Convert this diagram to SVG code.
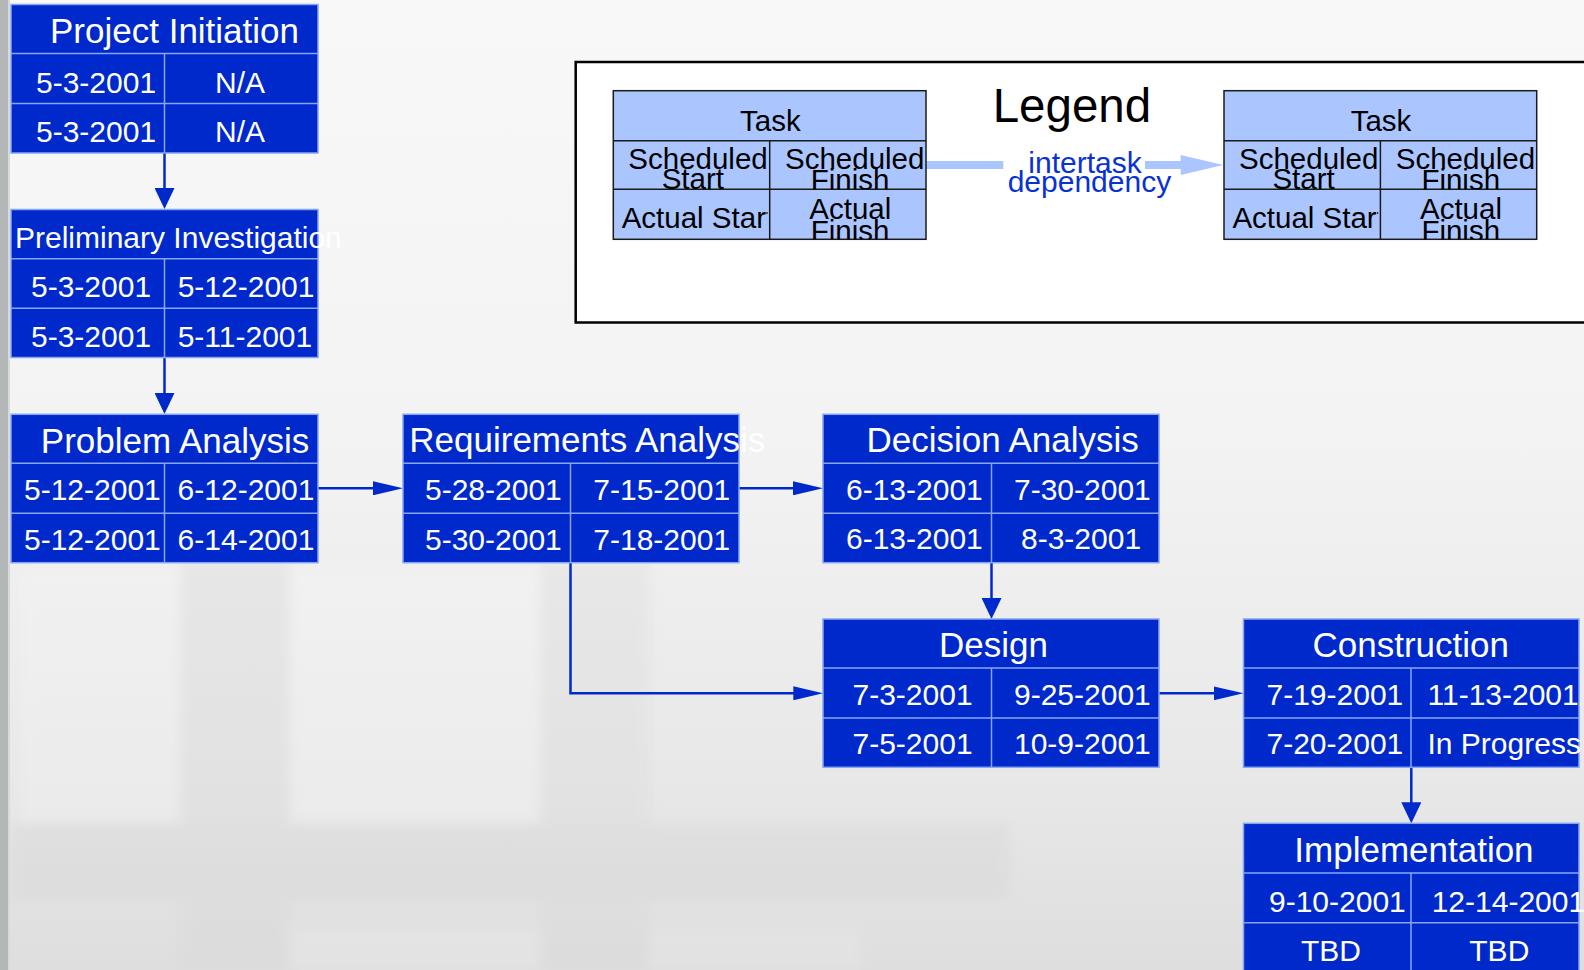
<svg xmlns="http://www.w3.org/2000/svg" width="1584" height="970" viewBox="0 0 1584 970">
<style>
.box{fill:#0029cc;stroke:#88a5f3;stroke-width:1.5}
.grid{fill:none;stroke:#88a5f3;stroke-width:1.5}
.title{font-family:"Liberation Sans",Arial,sans-serif;font-size:35px;fill:#ffffff}
.date{font-family:"Liberation Sans",Arial,sans-serif;font-size:30px;fill:#ffffff}
.conn{fill:none;stroke:#0029cc;stroke-width:2.5}
.lcell{fill:#abc6ff;stroke:#1a1a1a;stroke-width:1.5}
.lgrid{fill:none;stroke:#1a1a1a;stroke-width:1.5}
.ltext{font-family:"Liberation Sans",Arial,sans-serif;font-size:29.5px;fill:#000000}
.ldep{font-family:"Liberation Sans",Arial,sans-serif;font-size:30px;fill:#0a32d2}
</style>
<defs>
<linearGradient id="bg" x1="0" y1="0" x2="0" y2="1">
<stop offset="0" stop-color="#f8f8f8"/>
<stop offset="0.45" stop-color="#f3f3f3"/>
<stop offset="0.8" stop-color="#e8e8e8"/>
<stop offset="1" stop-color="#dedede"/>
</linearGradient>
<filter id="blur" x="-10%" y="-10%" width="120%" height="120%"><feGaussianBlur stdDeviation="6"/></filter>
<marker id="ah" markerUnits="userSpaceOnUse" markerWidth="30" markerHeight="14" refX="20" refY="7" orient="auto"><path d="M0,0 L30,7 L0,14 Z" fill="#0029cc"/></marker>
<marker id="av" markerUnits="userSpaceOnUse" markerWidth="21" markerHeight="20" refX="11" refY="10" orient="auto"><path d="M0,0 L21,10 L0,20 Z" fill="#0029cc"/></marker>
<clipPath id="cSS"><rect x="613.3" y="140.7" width="156.4" height="48.6"/></clipPath>
<clipPath id="cSF"><rect x="769.7" y="140.7" width="156.3" height="48.6"/></clipPath>
<clipPath id="cAS"><rect x="613.3" y="189.3" width="154.2" height="50"/></clipPath>
<clipPath id="cAF"><rect x="769.7" y="189.3" width="156.3" height="50"/></clipPath>
</defs>

<g id="background">
<rect x="0" y="0" width="1584" height="970" fill="url(#bg)"/>
<g filter="url(#blur)" opacity="0.3">
<rect x="180" y="560" width="110" height="410" fill="#d6d6d6"/>
<rect x="540" y="560" width="110" height="410" fill="#d8d8d8"/>
<rect x="10" y="823" width="1000" height="77" fill="#d2d2d2"/>
<rect x="290" y="570" width="250" height="253" fill="#f8f8f8"/>
<rect x="20" y="570" width="160" height="253" fill="#f6f6f6"/>
<rect x="290" y="930" width="250" height="40" fill="#eeeeee"/>
<rect x="650" y="930" width="210" height="40" fill="#ebebeb"/>
</g>
<rect x="0" y="0" width="8" height="970" fill="#b3b7b7"/>
<rect x="8" y="0" width="2" height="970" fill="#d8dada"/>
</g>

<g id="legend">
<rect x="575.7" y="62" width="1030" height="260.5" fill="#ffffff" stroke="#000000" stroke-width="2.5"/>
<text x="992.7" y="121.7" font-family="Liberation Sans, Arial, sans-serif" font-size="47.5" fill="#000000">Legend</text>
<g id="legend-arrow">
<path d="M926,165 H1003.3 M1145,165 H1182" fill="none" stroke="#abc6ff" stroke-width="8"/>
<polygon points="1180.7,155 1223.3,165 1180.7,175" fill="#abc6ff"/>
<text class="ldep" x="1028.3" y="172.7">intertask</text>
<text class="ldep" x="1007.7" y="191.7">dependency</text>
</g>
<g id="legend-task-1">
<rect class="lcell" x="613.3" y="90.7" width="312.7" height="148.6"/>
<path class="lgrid" d="M613.3,140.7H926M613.3,189.3H926M769.7,140.7V239.3"/>
<text class="ltext" x="740" y="130.7">Task</text>
<g clip-path="url(#cSS)"><text class="ltext" x="628.3" y="169">Scheduled</text><text class="ltext" x="661.7" y="189">Start</text></g>
<g clip-path="url(#cSF)"><text class="ltext" x="785" y="169">Scheduled</text><text class="ltext" x="810.7" y="189.5">Finish</text></g>
<g clip-path="url(#cAS)"><text class="ltext" x="621.7" y="228.3">Actual Start</text></g>
<g clip-path="url(#cAF)"><text class="ltext" x="809.3" y="219">Actual</text><text class="ltext" x="810.7" y="240.5">Finish</text></g>
</g>
<g id="legend-task-2" transform="translate(610.7,0)">
<rect class="lcell" x="613.3" y="90.7" width="312.7" height="148.6"/>
<path class="lgrid" d="M613.3,140.7H926M613.3,189.3H926M769.7,140.7V239.3"/>
<text class="ltext" x="740" y="130.7">Task</text>
<g clip-path="url(#cSS)"><text class="ltext" x="628.3" y="169">Scheduled</text><text class="ltext" x="661.7" y="189">Start</text></g>
<g clip-path="url(#cSF)"><text class="ltext" x="785" y="169">Scheduled</text><text class="ltext" x="810.7" y="189.5">Finish</text></g>
<g clip-path="url(#cAS)"><text class="ltext" x="621.7" y="228.3">Actual Start</text></g>
<g clip-path="url(#cAF)"><text class="ltext" x="809.3" y="219">Actual</text><text class="ltext" x="810.7" y="240.5">Finish</text></g>
</g>
</g>

<g id="connectors">
<path class="conn" d="M164.5,153 V199" marker-end="url(#av)"/>
<path class="conn" d="M164.5,357.5 V404" marker-end="url(#av)"/>
<path class="conn" d="M318,488.3 H393" marker-end="url(#ah)"/>
<path class="conn" d="M739,488.3 H813" marker-end="url(#ah)"/>
<path class="conn" d="M991.5,562.7 V609" marker-end="url(#av)"/>
<path class="conn" d="M570.5,562.7 V693.3 H813.3" marker-end="url(#ah)"/>
<path class="conn" d="M1159,693.3 H1233.5" marker-end="url(#ah)"/>
<path class="conn" d="M1411.3,767.3 V813.3" marker-end="url(#av)"/>
</g>

<g id="node-project-initiation">
<rect class="box" x="11" y="4.5" width="307" height="148.5"/>
<path class="grid" d="M11,53.5H318M11,103.5H318M164.5,53.5V153"/>
<text class="title" x="50" y="43.3">Project Initiation</text>
<text class="date" x="36" y="93.3">5-3-2001</text>
<text class="date" x="215" y="93.3">N/A</text>
<text class="date" x="36" y="141.7">5-3-2001</text>
<text class="date" x="215" y="141.7">N/A</text>
</g>

<g id="node-preliminary-investigation">
<rect class="box" x="11" y="209.5" width="307" height="148"/>
<path class="grid" d="M11,258.7H318M11,308.3H318M164.5,258.7V357.5"/>
<text class="date" x="15" y="248.3">Preliminary Investigation</text>
<text class="date" x="31" y="296.7">5-3-2001</text>
<text class="date" x="177.7" y="296.7">5-12-2001</text>
<text class="date" x="31" y="346.7">5-3-2001</text>
<text class="date" x="177.7" y="346.7">5-11-2001</text>
</g>

<g id="node-problem-analysis">
<rect class="box" x="11" y="414.3" width="307" height="148.4"/>
<path class="grid" d="M11,463.3H318M11,513.3H318M164.5,463.3V562.7"/>
<text class="title" x="40.8" y="452.7">Problem Analysis</text>
<text class="date" x="24" y="500">5-12-2001</text>
<text class="date" x="177.6" y="500">6-12-2001</text>
<text class="date" x="24" y="550">5-12-2001</text>
<text class="date" x="177.6" y="550">6-14-2001</text>
</g>

<g id="node-requirements-analysis">
<rect class="box" x="403" y="414.3" width="336" height="148.4"/>
<path class="grid" d="M403,463.3H739M403,513.3H739M570.5,463.3V562.7"/>
<text class="title" x="409.3" y="452.3">Requirements Analysis</text>
<text class="date" x="425" y="500">5-28-2001</text>
<text class="date" x="593.3" y="500">7-15-2001</text>
<text class="date" x="425" y="550">5-30-2001</text>
<text class="date" x="593.3" y="550">7-18-2001</text>
</g>

<g id="node-decision-analysis">
<rect class="box" x="823" y="414.3" width="336" height="148.4"/>
<path class="grid" d="M823,463.3H1159M823,513.3H1159M991.5,463.3V562.7"/>
<text class="title" x="866.5" y="452.3">Decision Analysis</text>
<text class="date" x="846" y="500">6-13-2001</text>
<text class="date" x="1014" y="500">7-30-2001</text>
<text class="date" x="846" y="549.3">6-13-2001</text>
<text class="date" x="1021" y="549.3">8-3-2001</text>
</g>

<g id="node-design">
<rect class="box" x="823" y="619" width="336" height="148.3"/>
<path class="grid" d="M823,668H1159M823,718H1159M991.5,668V767.3"/>
<text class="title" x="939" y="656.7">Design</text>
<text class="date" x="852.5" y="705">7-3-2001</text>
<text class="date" x="1014" y="705">9-25-2001</text>
<text class="date" x="852.5" y="754">7-5-2001</text>
<text class="date" x="1014" y="754">10-9-2001</text>
</g>

<g id="node-construction">
<rect class="box" x="1243.5" y="619" width="335.5" height="148.3"/>
<path class="grid" d="M1243.5,668H1579M1243.5,718H1579M1411,668V767.3"/>
<text class="title" x="1312.5" y="656.7">Construction</text>
<text class="date" x="1266.5" y="705">7-19-2001</text>
<text class="date" x="1427.5" y="705">11-13-2001</text>
<text class="date" x="1266.5" y="754">7-20-2001</text>
<text class="date" x="1427.5" y="754">In Progress</text>
</g>

<g id="node-implementation">
<rect class="box" x="1243.5" y="823.3" width="335.5" height="149"/>
<path class="grid" d="M1243.5,873H1579M1243.5,922.7H1579M1411,873V972"/>
<text class="title" x="1294.3" y="861.7">Implementation</text>
<text class="date" x="1269" y="911.7">9-10-2001</text>
<text class="date" x="1431.7" y="911.7">12-14-2001</text>
<text class="date" x="1301" y="961">TBD</text>
<text class="date" x="1469.3" y="961">TBD</text>
</g>
</svg>
